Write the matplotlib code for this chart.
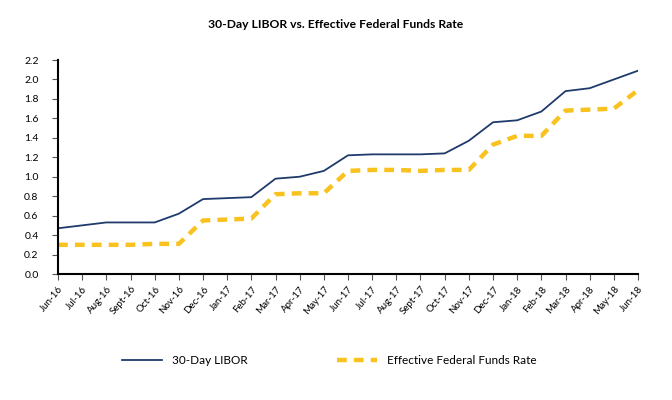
import matplotlib
matplotlib.use("Agg")
import matplotlib.pyplot as plt

months = ["Jun-16", "Jul-16", "Aug-16", "Sept-16", "Oct-16", "Nov-16", "Dec-16",
          "Jan-17", "Feb-17", "Mar-17", "Apr-17", "May-17", "Jun-17", "Jul-17",
          "Aug-17", "Sept-17", "Oct-17", "Nov-17", "Dec-17", "Jan-18", "Feb-18",
          "Mar-18", "Apr-18", "May-18", "Jun-18"]
libor = [0.47, 0.50, 0.53, 0.53, 0.53, 0.62, 0.77, 0.78, 0.79, 0.98, 1.00, 1.06,
         1.22, 1.23, 1.23, 1.23, 1.24, 1.37, 1.56, 1.58, 1.67, 1.88, 1.91, 2.00, 2.09]
fed_funds = [0.30, 0.30, 0.30, 0.30, 0.31, 0.31, 0.55, 0.56, 0.57, 0.82, 0.83, 0.83,
             1.06, 1.07, 1.07, 1.06, 1.07, 1.07, 1.33, 1.42, 1.42, 1.68, 1.69, 1.70, 1.89]
y_ticks = [0.0, 0.2, 0.4, 0.6, 0.8, 1.0, 1.2, 1.4, 1.6, 1.8, 2.0, 2.2]

plt.rcParams['font.family'] = ['Lato', 'DejaVu Sans']

fig = plt.figure(figsize=(6.72, 4.0), dpi=100)
ax = fig.add_axes([58 / 672, 1 - 274 / 400, 580 / 672, 214 / 400])

x = list(range(len(months)))
l1, = ax.plot(x, libor, color="#1F3B6B", linewidth=1.3, label="30-Day LIBOR")
l2, = ax.plot(x, fed_funds, color="#F9C21E", linewidth=3.2, linestyle=(0, (2.2, 1.6)),
              label="Effective Federal Funds Rate")

ax.set_xlim(0, len(months) - 1)
ax.set_ylim(0, 2.2)
ax.set_yticks(y_ticks)
ax.set_yticklabels(["%.1f" % v for v in y_ticks], fontsize=7.5)
ax.set_xticks(x)
ax.set_xticklabels(months, rotation=50, ha="right", rotation_mode="anchor", fontsize=7)
ax.spines["top"].set_visible(False)
ax.spines["right"].set_visible(False)
ax.spines["left"].set_linewidth(1.5)
ax.spines["bottom"].set_linewidth(1.5)
ax.tick_params(axis="both", direction="out", length=4, width=0.8, color="#555555")
ax.tick_params(axis="y", pad=10)

fig.text(0.5, 1 - 25 / 400, "30-Day LIBOR vs. Effective Federal Funds Rate",
         ha="center", va="center", fontsize=8.7, fontweight="bold")

fig.legend(handles=[l1, l2], loc="center", bbox_to_anchor=(0.49, 1 - 361 / 400),
           ncol=2, frameon=False, fontsize=8.5, handlelength=3.4, columnspacing=7.6,
           handletextpad=0.85)

fig.savefig("out.png", dpi=100)
